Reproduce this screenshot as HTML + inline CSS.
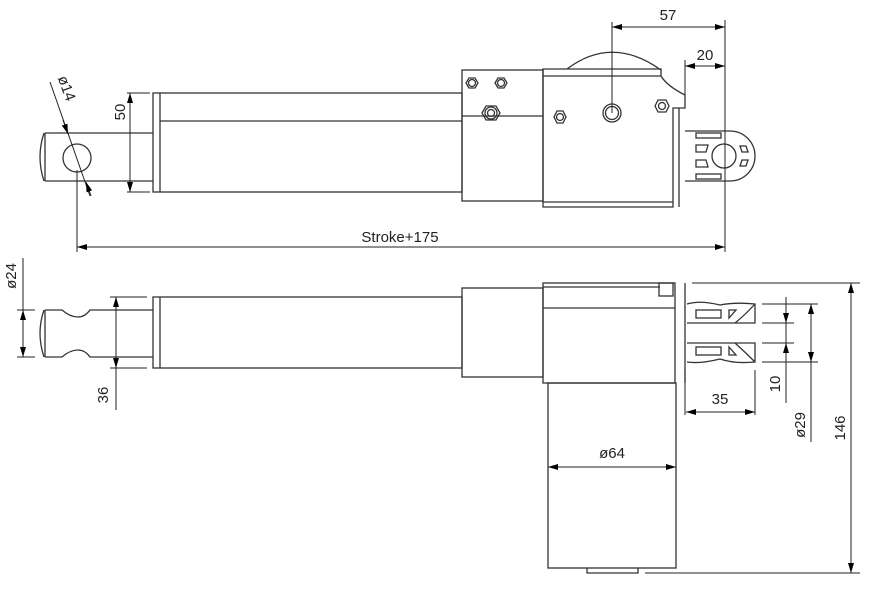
<!DOCTYPE html>
<html><head><meta charset="utf-8"><style>
html,body{margin:0;padding:0;background:#fff}
svg{display:block}
text{font-family:"Liberation Sans",sans-serif;font-size:15px;fill:#222}
</style></head><body>
<svg width="870" height="600" viewBox="0 0 870 600" xmlns="http://www.w3.org/2000/svg">
<defs>
<marker id="a" viewBox="0 0 10 6" refX="10" refY="3" markerWidth="10" markerHeight="6" orient="auto-start-reverse" markerUnits="userSpaceOnUse"><path d="M0,0 L10,3 L0,6z" fill="#000"/></marker>
</defs>
<g fill="none" stroke="#333" stroke-width="1.3">
<!-- TOP VIEW -->
<path d="M45,133 L153,133 M45,181 L153,181 M45,133 L45,181"/>
<path d="M44,133 Q36,157 44,181"/>
<circle cx="77" cy="158" r="14"/>
<rect x="153" y="93" width="309" height="99"/>
<line x1="160" y1="93" x2="160" y2="192"/>
<line x1="160" y1="121" x2="462" y2="121"/>
<rect x="462" y="70" width="81" height="131"/>
<line x1="462" y1="116" x2="543" y2="116"/>
<path d="M543,69 L661,69 L661,76 Q667,86 685,95 L685,108 L673,108 L673,207 L543,207 Z"/>
<line x1="543" y1="76" x2="661" y2="76"/>
<line x1="543" y1="202" x2="673" y2="202"/>
<line x1="679" y1="108" x2="679" y2="207"/>
<path d="M567,69 Q612,35 661,70"/>
<!-- bolts -->
<polygon points="466,83 469,78 475,78 478,83 475,88 469,88"/><circle cx="472" cy="83" r="3.5"/>
<polygon points="495,83 498,78 504,78 507,83 504,88 498,88"/><circle cx="501" cy="83" r="3.5"/>
<polygon points="482,113 486,106 496,106 500,113 496,120 486,120"/><circle cx="491" cy="113" r="6"/><circle cx="491" cy="113" r="3.5"/>
<polygon points="554,117 557,111 563,111 566,117 563,123 557,123"/><circle cx="560" cy="117" r="3.5"/>
<circle cx="612" cy="113" r="9"/><circle cx="612" cy="113" r="6.5"/>
<polygon points="655,106 658,100 666,100 669,106 666,112 658,112"/><circle cx="662" cy="106" r="3.5"/>
<!-- clevis top -->
<path d="M685,131 L730,131 A25,25 0 0 1 730,181 L685,181"/>
<circle cx="724" cy="156" r="12"/>
<rect x="696" y="133" width="25" height="5"/><rect x="696" y="174" width="25" height="5"/>
<path d="M696,145 L708,145 L706,152 L696,152Z M696,160 L706,160 L708,167 L696,167Z"/>
<path d="M740,146 L746,146 L748,152 L742,152Z M742,160 L748,160 L746,166 L740,166Z"/>
<!-- BOTTOM VIEW -->
<path d="M45,310 L62,310 Q70,317 78,317 Q85,317 90,310 L153,310 M45,357 L62,357 Q70,350 78,350 Q85,350 90,357 L153,357 M45,310 L45,357"/>
<path d="M44,310 Q36,333 44,357"/>
<rect x="153" y="297" width="309" height="71"/>
<line x1="160" y1="297" x2="160" y2="368"/>
<rect x="462" y="288" width="81" height="89"/>
<rect x="543" y="283" width="132" height="100"/>
<line x1="543" y1="287" x2="660" y2="287"/>
<line x1="543" y1="308" x2="675" y2="308"/>
<rect x="659" y="283" width="14" height="13"/>
<line x1="685" y1="283" x2="685" y2="383"/>
<rect x="548" y="383" width="128" height="185"/>
<path d="M587,568 L587,573 L638,573 L638,568"/>
<!-- clevis bottom -->
<path d="M687,304 Q700,300 720,305 Q735,302 755,304 L755,323 L687,323 M687,343 L755,343 L755,362 Q735,364 720,359 Q700,364 687,362"/>
<rect x="696" y="310" width="25" height="8"/><rect x="696" y="347" width="25" height="8"/>
<path d="M729,310 L736,310 L729,318Z M729,347 L736,355 L729,355Z"/>
<path d="M735,323 Q745,315 755,304 M735,343 Q745,352 755,362"/>
</g>
<!-- DIMENSIONS -->
<g fill="none" stroke="#222" stroke-width="1">
<line x1="50" y1="82" x2="90" y2="196"/>
<line x1="63" y1="120" x2="68" y2="134" marker-end="url(#a)"/>
<line x1="91" y1="196" x2="86" y2="182" marker-end="url(#a)"/>
<line x1="127" y1="93" x2="150" y2="93"/><line x1="127" y1="192" x2="150" y2="192"/>
<line x1="130" y1="93" x2="130" y2="192" marker-start="url(#a)" marker-end="url(#a)"/>
<line x1="77" y1="170" x2="77" y2="252"/>
<line x1="725" y1="20" x2="725" y2="252"/>
<line x1="77" y1="247" x2="725" y2="247" marker-start="url(#a)" marker-end="url(#a)"/>
<line x1="612" y1="22" x2="612" y2="113"/>
<line x1="612" y1="27" x2="725" y2="27" marker-start="url(#a)" marker-end="url(#a)"/>
<line x1="685" y1="60" x2="685" y2="95"/>
<line x1="685" y1="66" x2="725" y2="66" marker-start="url(#a)" marker-end="url(#a)"/>
<line x1="23" y1="258" x2="23" y2="357" />
<line x1="17" y1="310" x2="35" y2="310"/><line x1="17" y1="357" x2="35" y2="357"/>
<line x1="23" y1="310" x2="23" y2="357" marker-start="url(#a)" marker-end="url(#a)"/>
<line x1="110" y1="297" x2="147" y2="297"/><line x1="110" y1="368" x2="147" y2="368"/>
<line x1="116" y1="297" x2="116" y2="410"/>
<line x1="116" y1="297" x2="116" y2="368" marker-start="url(#a)" marker-end="url(#a)"/>
<line x1="548" y1="467" x2="676" y2="467" marker-start="url(#a)" marker-end="url(#a)"/>
<line x1="685" y1="370" x2="685" y2="415"/><line x1="755" y1="370" x2="755" y2="415"/>
<line x1="686" y1="412" x2="755" y2="412" marker-start="url(#a)" marker-end="url(#a)"/>
<line x1="762" y1="304" x2="818" y2="304"/><line x1="762" y1="362" x2="818" y2="362"/>
<line x1="762" y1="323" x2="794" y2="323"/><line x1="762" y1="343" x2="794" y2="343"/>
<line x1="786" y1="297" x2="786" y2="403"/>
<line x1="786" y1="304" x2="786" y2="323" marker-end="url(#a)"/>
<line x1="786" y1="362" x2="786" y2="343" marker-end="url(#a)"/>
<line x1="811" y1="304" x2="811" y2="442"/>
<line x1="811" y1="304" x2="811" y2="362" marker-start="url(#a)" marker-end="url(#a)"/>
<line x1="692" y1="283" x2="860" y2="283"/>
<line x1="645" y1="573" x2="860" y2="573"/>
<line x1="851" y1="283" x2="851" y2="573" marker-start="url(#a)" marker-end="url(#a)"/>
</g>
<g>
<text x="400" y="242" text-anchor="middle">Stroke+175</text>
<text x="668" y="20" text-anchor="middle">57</text>
<text x="705" y="60" text-anchor="middle">20</text>
<text transform="translate(125,112) rotate(-90)" text-anchor="middle">50</text>
<text transform="translate(62,90) rotate(70)" text-anchor="middle">ø14</text>
<text transform="translate(16,276) rotate(-90)" text-anchor="middle">ø24</text>
<text transform="translate(108,395) rotate(-90)" text-anchor="middle">36</text>
<text x="612" y="458" text-anchor="middle">ø64</text>
<text x="720" y="404" text-anchor="middle">35</text>
<text transform="translate(780,384) rotate(-90)" text-anchor="middle">10</text>
<text transform="translate(805,425) rotate(-90)" text-anchor="middle">ø29</text>
<text transform="translate(845,428) rotate(-90)" text-anchor="middle">146</text>
</g>
</svg>
</body></html>
